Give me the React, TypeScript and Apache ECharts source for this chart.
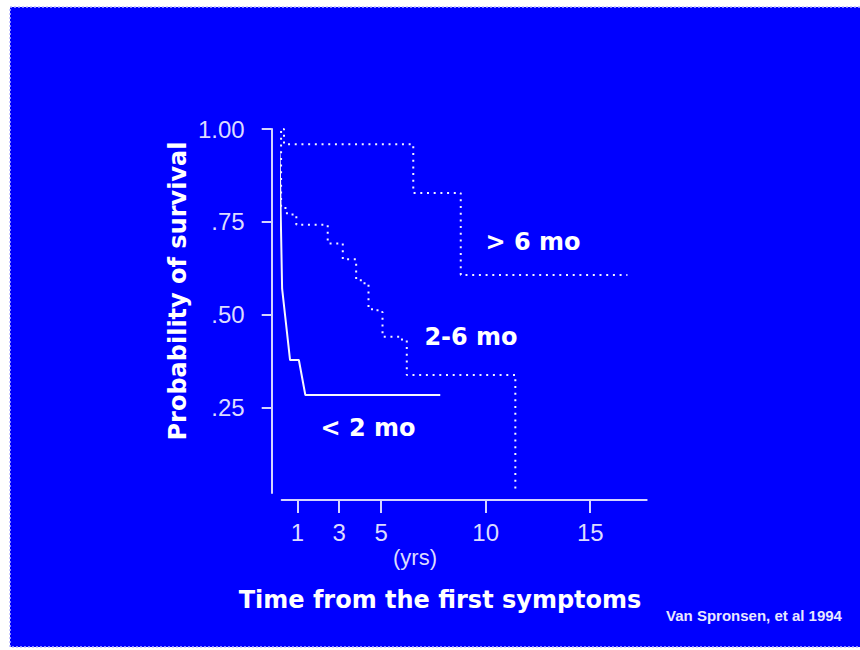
import React, { useEffect, useRef } from "react";
import * as echarts from "echarts";

// Kaplan-Meier style survival curves (time in years, probability of survival)
const lessThan2Mo: [number, number][] = [
  [0, 1.0], [0.15, 0.93], [0.27, 0.57], [0.65, 0.378], [1.07, 0.378], [1.38, 0.284], [7.83, 0.284],
];
const twoToSixMo: [number, number][] = [
  [0, 1.0], [0.22, 0.787], [0.5, 0.77], [0.95, 0.742], [2.45, 0.692], [3.17, 0.649], [3.81, 0.593],
  [4.15, 0.585], [4.4, 0.515], [4.83, 0.507], [5.07, 0.441], [6.0, 0.432], [6.23, 0.338], [11.42, 0.02],
];
const moreThan6Mo: [number, number][] = [
  [0, 1.0], [0.36, 0.959], [6.54, 0.828], [8.81, 0.607], [16.78, 0.607],
];
const xTicks = [1, 3, 5, 10, 15];
const yTicks = [0.25, 0.5, 0.75, 1.0];
const seriesLabels = ["< 2 mo", "2-6 mo", "> 6 mo"];
const yTitle = "Probability of survival";
const xTitle = "Time from the first symptoms";
const xUnit = "(yrs)";
const citation = "Van Spronsen, et al 1994";

export default function App() {
  const ref = useRef<HTMLDivElement>(null);
  useEffect(() => {
    if (!ref.current) return;
    const chart = echarts.init(ref.current, undefined, { renderer: "svg" });
    const axisColor = "#d4d4ff";
    const tickFont = { fontFamily: "Liberation Sans", fontSize: 24, color: "#dcdcff" };
    const boldFont = "DejaVu Sans";
    const dotted = { color: "#f2f2ff", width: 2, type: [2, 4.7] as any, cap: "butt" as any };
    chart.setOption({
      animation: false,
      backgroundColor: "#ffffff",
      grid: { left: 281.7, right: 213.3, top: 129, bottom: 157 },
      xAxis: {
        type: "value",
        min: 0.25,
        max: 17.7,
        offset: 7,
        splitLine: { show: false },
        axisLine: { show: true, lineStyle: { color: axisColor, width: 2 } },
        axisTick: { show: true, length: 13, customValues: xTicks, lineStyle: { color: axisColor, width: 2 } },
        axisLabel: { customValues: xTicks, margin: 20, ...tickFont },
      },
      yAxis: {
        type: "value",
        min: 0.02,
        max: 1.0,
        offset: 10,
        splitLine: { show: false },
        axisLine: { show: true, lineStyle: { color: axisColor, width: 2 } },
        axisTick: { show: true, length: 10, customValues: yTicks, lineStyle: { color: axisColor, width: 2 } },
        axisLabel: {
          customValues: yTicks,
          margin: 27,
          ...tickFont,
          formatter: (v: number) => (v >= 1 ? "1.00" : "." + Math.round(v * 100)),
        },
      },
      graphic: [
        {
          type: "rect",
          z: -10,
          silent: true,
          shape: { x: 10, y: 7, width: 852, height: 640 },
          style: { fill: "#0000ff", stroke: "#b8b8ff", lineWidth: 1.5, lineDash: [2, 2] },
        },
        {
          type: "text", x: 178, y: 291, rotation: Math.PI / 2,
          style: { text: yTitle, fill: "#ffffff", font: `bold 24px "${boldFont}"`, align: "center", verticalAlign: "middle" },
        },
        {
          type: "text", x: 440, y: 600,
          style: { text: xTitle, fill: "#ffffff", font: `bold 24px "${boldFont}"`, align: "center", verticalAlign: "middle" },
        },
        {
          type: "text", x: 415, y: 557,
          style: { text: xUnit, fill: "#dcdcff", font: `22px "Liberation Sans"`, align: "center", verticalAlign: "middle" },
        },
        {
          type: "text", x: 368, y: 428,
          style: { text: seriesLabels[0], fill: "#ffffff", font: `bold 24px "${boldFont}"`, align: "center", verticalAlign: "middle" },
        },
        {
          type: "text", x: 471, y: 337,
          style: { text: seriesLabels[1], fill: "#ffffff", font: `bold 24px "${boldFont}"`, align: "center", verticalAlign: "middle" },
        },
        {
          type: "text", x: 533, y: 242,
          style: { text: seriesLabels[2], fill: "#ffffff", font: `bold 24px "${boldFont}"`, align: "center", verticalAlign: "middle" },
        },
        {
          type: "text", x: 754, y: 615,
          style: { text: citation, fill: "#e8e8ff", font: `bold 15px "Liberation Sans"`, align: "center", verticalAlign: "middle" },
        },
      ],
      series: [
        {
          name: seriesLabels[0], type: "line", data: lessThan2Mo, showSymbol: false, clip: false,
          lineStyle: { color: "#f6f6ff", width: 2 },
        },
        {
          name: seriesLabels[1], type: "line", step: "end", data: twoToSixMo, showSymbol: false, clip: false,
          lineStyle: dotted,
        },
        {
          name: seriesLabels[2], type: "line", step: "end", data: moreThan6Mo, showSymbol: false, clip: false,
          lineStyle: dotted,
        },
      ],
    });
    return () => chart.dispose();
  }, []);
  return (
    <div
      ref={ref}
      style={{ position: "fixed", left: 0, top: 0, width: 860, height: 650 }}
    />
  );
}
